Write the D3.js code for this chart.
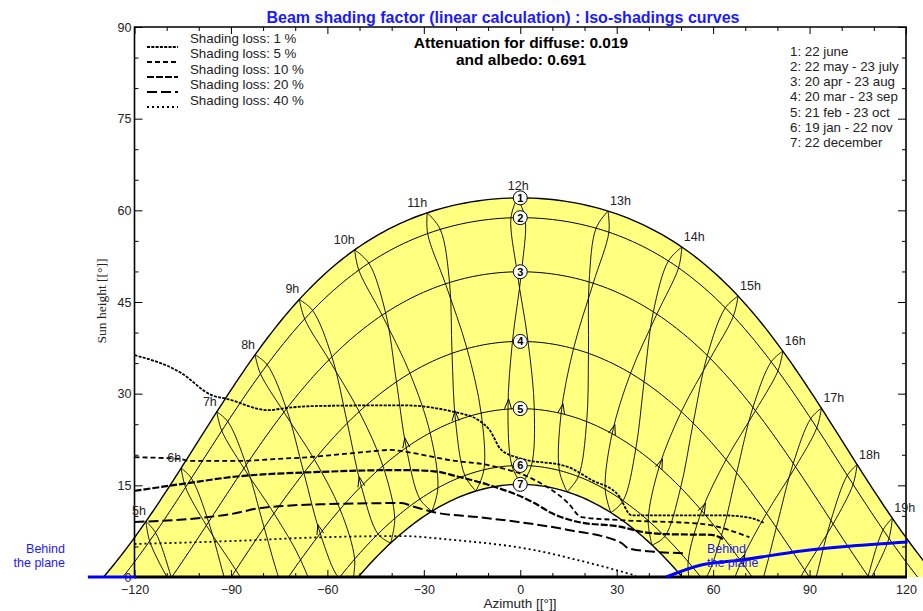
<!DOCTYPE html>
<html><head><meta charset="utf-8">
<script src="https://cdn.jsdelivr.net/npm/d3@7"></script>
<style>
body{margin:0;background:#fff}
svg{display:block}
</style>
</head><body>
<svg id="chart" width="923" height="611" font-family="Liberation Sans, Arial, sans-serif"></svg>
<script>
// ---------- data ----------
const latitude = 51.4;
const dateLabels = ["22 june","22 may - 23 july","20 apr - 23 aug","20 mar - 23 sep","21 feb - 23 oct","19 jan - 22 nov","22 december"];
const declination = [23.44, 20.2, 11.35, -0.05, -11.05, -20.35, -23.44];
// equation of time (minutes) for the rising half (Dec->Jun) and the falling half (Jun->Dec)
const eotRising  = [-1.9, 3.3, 1.0, -7.6, -13.8, -10.5, 1.6];
const eotFalling = [-1.9, -6.4, -2.6, 7.6, 15.8, 14.0, 1.6];
const hours = [5,6,7,8,9,10,11,12,13,14,15,16,17,18,19];

const lossLabels = ["Shading loss: 1 %","Shading loss: 5 %","Shading loss: 10 %","Shading loss: 20 %","Shading loss: 40 %"];
const loss1  = [[-120,36.3],[-105.5,33.4],[-96.2,29.8],[-90.9,29.1],[-78.4,27.3],[-72.2,27.7],[-61.9,28.0],[-37,28.1],[-20.5,27.0],[-13.1,25.7],[-9.6,24.1],[-5.9,20.8],[-0.6,19.5],[14.9,18.0],[22.1,15.9],[30.5,13.4],[34.6,10.1],[62.6,10.1],[71.3,9.7],[76,8.8]];
const loss5  = [[-120,19.6],[-105.5,19.3],[-103.3,19.0],[-86.8,19.0],[-76.6,19.3],[-66,19.6],[-55.7,20.1],[-47.3,20.5],[-40.2,20.8],[-37,20.6],[-21.5,19.1],[-10,18.3],[4.4,15.9],[14.9,12.1],[19,9.8],[31.4,9.3],[56.3,8.7],[71.3,6.5]];
const loss10 = [[-120,14.1],[-105.5,15.2],[-89,16.4],[-61.9,17.2],[-37,17.5],[-26.8,17.3],[-19.3,16.4],[-10,15.1],[4.4,12.1],[9.6,10.5],[18.1,9.0],[31.4,8.2],[37.7,7.4],[46.1,7.0],[59.5,6.9],[63.5,6.1]];
const loss20 = [[-120,9.0],[-97.1,9.8],[-90,10.3],[-80.6,11.3],[-61.9,11.9],[-37,12.1],[-33,11.5],[-26.8,10.6],[-13.1,9.8],[-0.6,9.0],[14.9,7.7],[31.4,5.6],[33.6,4.7],[42.3,4.1],[51.1,3.9]];
const loss40 = [[-120,5.4],[-89,5.9],[-61.9,6.5],[-37,6.7],[-21.5,6.1],[4.4,4.4],[19.9,2.5],[31.4,0.9],[36,0.2]];

const behindLeft  = [[-134.5,0],[-119.6,0]];
const behindRight = [[45.4,0],[56.3,1.96],[68.8,2.78],[87.5,4.25],[103,5.07],[120.5,5.73]];

const xMajor = [-120,-90,-60,-30,0,30,60,90,120];
const yMajor = [0,15,30,45,60,75,90];

// ---------- setup ----------
const svg = d3.select("#chart");
const x = d3.scaleLinear().domain([-120,120]).range([134.5,906]);
const y = d3.scaleLinear().domain([0,90]).range([577,27]);
const SANS = "Liberation Sans, Arial, sans-serif";

const R = Math.PI/180;
function sunPos(H, dec){ // hour angle (deg), declination (deg) -> azimuth / elevation
  const f = latitude*R, d = dec*R, h = H*R;
  const s = Math.sin(f)*Math.sin(d)+Math.cos(f)*Math.cos(d)*Math.cos(h);
  const el = Math.asin(s)/R;
  const az = Math.atan2(Math.sin(h), Math.cos(h)*Math.sin(f)-Math.tan(d)*Math.cos(f))/R;
  return [az, el];
}
function dayPath(dec){
  const H0 = Math.acos(-Math.tan(latitude*R)*Math.tan(dec*R))/R;
  const pts = [];
  for(let H=-H0; H<H0; H+=1) pts.push(sunPos(H,dec));
  pts.push(sunPos(H0,dec));
  pts[0][1]=0; pts[pts.length-1][1]=0;
  return pts;
}
const lineXY = d3.line().x(d=>x(d[0])).y(d=>y(d[1]));

svg.append("defs").append("clipPath").attr("id","above")
  .append("rect").attr("x",0).attr("y",0).attr("width",923).attr("height",577);

// yellow band
const june = dayPath(declination[0]);
const dec = dayPath(declination[6]);
svg.append("path")
  .attr("d", lineXY(june.concat(dec.slice().reverse())) + "Z")
  .attr("fill","#ffff80").attr("stroke","none");

const g = svg.append("g").attr("clip-path","url(#above)");

// date curves
declination.forEach((dc,i)=>{
  g.append("path").attr("d", lineXY(dayPath(dc)))
   .attr("fill","none").attr("stroke","#000")
   .attr("stroke-width", (i===0||i===6)?1.4:1);
});

// hour loops (two branches each)
const spline = d3.line().x(d=>d[0]).y(d=>d[1]).curve(d3.curveCatmullRom.alpha(0.5));
hours.forEach(t=>{
  [eotRising, eotFalling].forEach((eot,bi)=>{
    const pts = declination.map((dc,i)=>{
      const p = sunPos(15*(t-12)+eot[i]/4, dc);
      return [x(p[0]), y(p[1])];
    });
    g.append("path").attr("d", spline(pts))
      .attr("fill","none").attr("stroke","#000").attr("stroke-width",0.9);
    if(bi===0){
      const a = pts[4], b = pts[3];
      const fr = 0.15;
      const P = [a[0]+(b[0]-a[0])*fr, a[1]+(b[1]-a[1])*fr];
      const L = Math.hypot(b[0]-a[0], b[1]-a[1]);
      const d = [(b[0]-a[0])/L, (b[1]-a[1])/L], n = [-d[1], d[0]];
      if(P[1] < 574){
        g.append("path")
          .attr("d", `M${P[0]-d[0]*10+n[0]*3.5},${P[1]-d[1]*10+n[1]*3.5}L${P[0]},${P[1]}L${P[0]-d[0]*10-n[0]*3.5},${P[1]-d[1]*10-n[1]*3.5}`)
          .attr("fill","none").attr("stroke","#000").attr("stroke-width",1);
      }
    }
  });
});

// shading loss iso-curves
const lossSets = [loss1, loss5, loss10, loss20, loss40];
const lossStyles = [
  {dash:"3,1.3", w:1.8},
  {dash:"5,3", w:1.8},
  {dash:"7,2", w:2.2},
  {dash:"10,4", w:2},
  {dash:"2,3", w:1.8}
];
const smooth = d3.line().x(d=>x(d[0])).y(d=>y(d[1])).curve(d3.curveMonotoneX);
lossSets.forEach((s,i)=>{
  svg.append("path").attr("d", smooth(s)).attr("fill","none")
    .attr("stroke","#000").attr("stroke-width",lossStyles[i].w)
    .attr("stroke-dasharray",lossStyles[i].dash);
});

// axes
function axis(gen, tx, ty, vals, size, labels){
  const a = svg.append("g").attr("transform",`translate(${tx},${ty})`)
    .call(gen.tickValues(vals).tickSize(size).tickPadding(labels?5:0).tickFormat(labels?d3.format("d"):""));
  a.select(".domain").remove();
  a.attr("font-family", SANS).attr("font-size", 12.5);
  a.selectAll("line").attr("stroke","#000").attr("stroke-width",1);
  a.selectAll("text").attr("fill","#222");
  return a;
}
const xMinor = d3.range(-110,120,10).filter(v=>v%30!==0);
const yMinor = d3.range(5,90,5).filter(v=>v%15!==0);
const bx = axis(d3.axisBottom(x), 0, 577, xMajor, -7, true);
bx.selectAll("text").attr("dy","0.95em");
axis(d3.axisBottom(x), 0, 577, xMinor, -4, false);
axis(d3.axisTop(x), 0, 27, xMajor, -7, false);
axis(d3.axisTop(x), 0, 27, xMinor, -4, false);
const ly = axis(d3.axisLeft(y), 134.5, 0, yMajor, -8, true);
ly.selectAll("text").attr("x",-3);
axis(d3.axisLeft(y), 134.5, 0, yMinor, -4, false);
axis(d3.axisRight(y), 906, 0, yMajor, -8, false);
axis(d3.axisRight(y), 906, 0, yMinor, -4, false);

// frame
svg.append("path").attr("d",`M134.5,577V27H906V577`).attr("fill","none").attr("stroke","#000").attr("stroke-width",1.6);
svg.append("line").attr("x1",134.5).attr("x2",907).attr("y1",577).attr("y2",577).attr("stroke","#000").attr("stroke-width",3);

// behind the plane lines
[behindLeft, behindRight].forEach(s=>{
  svg.append("path").attr("d", d3.line().x(d=>x(d[0])).y(d=>y(d[1])).curve(d3.curveMonotoneX)(s))
    .attr("fill","none").attr("stroke","#0000ff").attr("stroke-width",3);
});
const bl = svg.append("text").attr("fill","#1a1aff").attr("font-size",12.5).attr("text-anchor","end");
bl.append("tspan").attr("x",65).attr("y",553).text("Behind");
bl.append("tspan").attr("x",65).attr("y",567).text("the plane");
const br = svg.append("text").attr("fill","#1a1aff").attr("font-size",12.5).attr("text-anchor","start");
br.append("tspan").attr("x",707).attr("y",553).text("Behind");
br.append("tspan").attr("x",707).attr("y",567).text("the plane");

// date circles at noon
declination.forEach((dc,i)=>{
  const cx = x(0), cy = y(90-latitude+dc);
  svg.append("circle").attr("cx",cx).attr("cy",cy).attr("r",7)
    .attr("fill","#fff").attr("stroke","#000").attr("stroke-width",1);
  svg.append("text").attr("x",cx).attr("y",cy+4).attr("text-anchor","middle")
    .attr("font-size",11).attr("font-weight","bold").text(i+1);
});

// hour labels
hours.forEach(t=>{
  const p = sunPos(15*(t-12)+eotRising[0]/4, declination[0]);
  const px = x(p[0]), py = y(p[1]);
  svg.append("text").attr("x", t<12?px:(t>12?px+2:px+1)).attr("y", t===12?py-8:py-6)
    .attr("text-anchor", t<12?"end":(t>12?"start":"middle"))
    .attr("font-size",12.5).attr("fill","#222").text(t+"h");
});

// titles
svg.append("text").attr("x",503).attr("y",23).attr("text-anchor","middle")
  .attr("font-size",16).attr("font-weight","bold").attr("fill","#1a1aff")
  .text("Beam shading factor (linear calculation) : Iso-shadings curves");
svg.append("text").attr("x",521).attr("y",48).attr("text-anchor","middle")
  .attr("font-size",15.5).attr("font-weight","bold").text("Attenuation for diffuse: 0.019");
svg.append("text").attr("x",521).attr("y",65).attr("text-anchor","middle")
  .attr("font-size",15.5).attr("font-weight","bold").text("and albedo: 0.691");

// loss legend
lossLabels.forEach((l,i)=>{
  const yy = 47 + i*15;
  svg.append("line").attr("x1",147).attr("x2",178).attr("y1",yy).attr("y2",yy)
    .attr("stroke","#000").attr("stroke-width",lossStyles[i].w)
    .attr("stroke-dasharray",lossStyles[i].dash);
  svg.append("text").attr("x",190).attr("y",42.5+i*15.5).attr("font-size",13.3).attr("fill","#222").text(l);
});

// date legend
dateLabels.forEach((l,i)=>{
  svg.append("text").attr("x",790).attr("y",55.5+i*15.3).attr("font-size",13.3).attr("fill","#222")
    .text((i+1)+": "+l);
});

// axis titles
svg.append("text").attr("x",520).attr("y",608).attr("text-anchor","middle")
  .attr("font-size",13.5).attr("fill","#222").text("Azimuth [[°]]");
svg.append("text").attr("transform","translate(106,301) rotate(-90)").attr("text-anchor","middle")
  .attr("font-family","Liberation Serif, Times New Roman, serif")
  .attr("font-size",13.5).attr("fill","#222").text("Sun height [[°]]");
</script>
</body></html>
